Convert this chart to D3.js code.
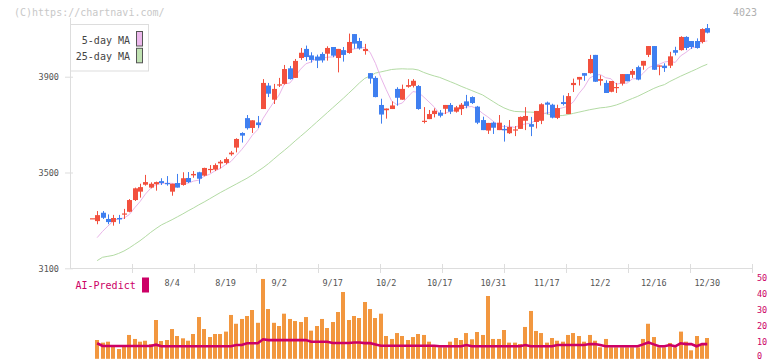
<!DOCTYPE html>
<html><head><meta charset="utf-8">
<script src="https://cdn.jsdelivr.net/npm/d3@7"></script>
<style>
body{margin:0;background:#fff;}
svg{display:block;}
text{font-family:"DejaVu Sans Mono",monospace;}
</style>
</head><body>
<svg id="c" width="772" height="361"></svg>
<script>
const dates = ["7/11","7/14","7/15","7/16","7/17","7/18","7/22","7/23","7/24","7/25","7/28","7/29","7/30","7/31","8/1","8/4","8/5","8/6","8/7","8/8","8/12","8/13","8/14","8/15","8/18","8/19","8/20","8/21","8/22","8/25","8/26","8/27","8/28","8/29","9/1","9/2","9/3","9/4","9/5","9/8","9/9","9/10","9/11","9/12","9/16","9/17","9/18","9/19","9/22","9/24","9/25","9/26","9/29","9/30","10/1","10/2","10/3","10/6","10/7","10/8","10/9","10/10","10/14","10/15","10/16","10/17","10/20","10/21","10/22","10/23","10/24","10/27","10/28","10/29","10/30","10/31","11/4","11/5","11/6","11/7","11/10","11/11","11/12","11/13","11/14","11/17","11/18","11/19","11/20","11/21","11/25","11/26","11/27","11/28","12/1","12/2","12/3","12/4","12/5","12/8","12/9","12/10","12/11","12/12","12/15","12/16","12/17","12/18","12/19","12/22","12/23","12/24","12/25","12/26","12/29","12/30"];

const openP = [3309,3297,3332,3306,3293,3310,3325,3336,3385,3420,
 3449,3437,3451,3464,3456,3420,3456,3448,3477,3488,
 3501,3487,3512,3512,3538,3540,3576,3604,3665,3727,
 3686,3709,3765,3863,3804,3865,3870,3935,3895,3978,
 4016,3989,3984,3995,3996,4024,3978,4011,3999,4078,
 4049,4007,3915,3895,3782,3760,3765,3849,3804,3858,
 3862,3861,3712,3723,3744,3750,3766,3782,3754,3765,
 3797,3815,3775,3719,3675,3708,3677,3682,3664,3676,
 3682,3716,3702,3711,3716,3792,3783,3728,3794,3744,
 3865,3888,3915,3915,3991,3883,3874,3837,3853,3871,
 3911,3908,3940,3946,3991,4028,3943,3946,3946,4011,
 4011,4066,4049,4049,4045,4103];

const highP = [3309,3339,3339,3325,3323,3323,3348,3389,3437,3453,
 3490,3459,3462,3476,3485,3453,3494,3501,3502,3506,
 3503,3520,3531,3538,3552,3563,3590,3643,3668,3740,
 3718,3736,3890,3874,3870,3895,3949,3945,3974,4020,
 4030,4002,3992,4002,4027,4024,4016,4024,4080,4078,
 4062,4037,3915,3902,3808,3767,3797,3856,3867,3890,
 3890,3865,3773,3761,3768,3761,3782,3790,3778,3790,
 3824,3818,3778,3733,3707,3712,3740,3698,3719,3694,
 3734,3773,3732,3757,3789,3796,3787,3783,3822,3832,
 3892,3899,3915,3991,3991,3906,3885,3882,3874,3911,
 3911,3932,3946,3966,4028,4028,3947,3956,4004,4025,
 4069,4069,4049,4060,4102,4120];

const lowP = [3309,3284,3306,3284,3278,3286,3306,3334,3381,3395,
 3445,3434,3424,3448,3445,3403,3437,3445,3456,3478,
 3453,3484,3499,3506,3517,3534,3570,3584,3625,3679,
 3665,3686,3765,3815,3786,3857,3867,3888,3895,3970,
 3966,3959,3936,3959,3967,3981,3918,3963,3996,4017,
 4013,3992,3871,3814,3704,3725,3765,3779,3804,3854,
 3855,3762,3705,3723,3730,3730,3744,3744,3750,3740,
 3768,3786,3702,3677,3661,3661,3677,3629,3661,3652,
 3682,3677,3652,3684,3702,3743,3726,3723,3780,3744,
 3836,3863,3883,3913,3878,3863,3832,3835,3832,3863,
 3881,3895,3885,3929,3982,3928,3906,3920,3936,3989,
 4009,4011,4016,4017,4039,4081];

const closeP = [3309,3322,3311,3293,3310,3304,3329,3385,3434,3439,
 3460,3453,3460,3456,3451,3453,3437,3476,3460,3494,
 3474,3519,3515,3531,3545,3556,3583,3640,3654,3685,
 3718,3698,3874,3829,3849,3868,3932,3890,3966,4000,
 3982,3970,3967,3968,4020,3988,4016,3991,4045,4038,
 4018,4016,3892,3815,3742,3767,3780,3812,3849,3865,
 3883,3765,3716,3744,3758,3737,3782,3754,3772,3783,
 3778,3790,3708,3677,3707,3687,3708,3676,3690,3680,
 3732,3736,3691,3757,3785,3783,3729,3769,3786,3819,
 3874,3899,3904,3974,3879,3890,3832,3882,3857,3911,
 3881,3924,3888,3966,4028,3929,3947,3936,3985,4000,
 4066,4020,4024,4020,4099,4084];

const ma5 = [null,3228,3254,3276,3297,3308.0,3309.4,3324.2,3352.4,3378.2,
 3409.4,3434.2,3449.2,3453.6,3456.0,3454.6,3451.4,3454.6,3455.4,3464.0,
 3468.2,3484.6,3492.4,3506.6,3516.8,3533.2,3546.0,3571.0,3595.6,3623.6,
 3656.0,3679.0,3725.8,3760.8,3793.6,3823.6,3870.4,3873.6,3901.0,3931.2,
 3954.0,3961.6,3977.0,3977.4,3981.4,3982.6,3991.8,3996.6,4012.0,4015.6,
 4021.6,4021.6,4001.8,3955.8,3896.6,3846.4,3799.2,3783.2,3790.0,3814.6,
 3837.8,3834.8,3815.6,3794.6,3773.2,3744.0,3747.4,3755.0,3760.6,3765.6,
 3773.8,3775.4,3766.2,3747.2,3732.0,3713.8,3697.4,3691.0,3693.6,3688.2,
 3697.2,3702.8,3705.8,3719.2,3740.2,3750.4,3749.0,3764.6,3770.4,3777.2,
 3795.4,3829.4,3856.4,3894.0,3906.0,3909.2,3895.8,3891.4,3868.0,3874.4,
 3872.6,3891.0,3892.2,3914.0,3937.4,3947.0,3951.6,3961.2,3965.0,3959.4,
 3986.8,4001.4,4019.0,4026.0,4045.8,4049.4];

const ma25 = [null,3132,3146,3150,3154,3162,3172,3185,3200,3215,
 3232,3250,3266,3281,3292,3303,3315,3327,3340,3352,
 3365,3377,3390,3403,3416,3428,3440,3452,3464,3476,
 3490,3505,3520,3537,3556,3575,3593,3612,3632,3651,
 3670,3690,3710,3730,3750,3770,3790,3810,3831,3852,
 3874,3893,3903,3915,3920,3925,3930,3932,3933,3932,
 3932,3928,3918,3910,3903,3897,3888,3879,3870,3860,
 3851,3842,3833,3824,3810,3796,3782,3770,3761,3755,
 3754,3753,3752,3751,3750,3745,3740,3737,3738,3742,
 3747,3752,3757,3762,3766,3770,3772,3776,3782,3790,
 3800,3809,3818,3829,3840,3851,3860,3867,3880,3891,
 3902,3912,3922,3932,3943,3952];

const volume = [null,11.75,10.1,10.7,8.2,6.1,8.0,14.9,12.4,10.7,
 11.3,9.2,24.25,11.1,11.75,18.6,14.25,12.8,11.3,15.5,
 26.1,18.6,13.6,15.5,15.5,17.0,27.4,21.9,24.9,26.75,
 30.5,22.5,49.9,31.1,22.5,20.5,28.2,24.9,23.6,23.0,
 26.1,17.6,20.5,24.9,19.25,23.0,29.25,41.75,24.25,26.75,
 25.5,35.5,31.1,25.5,28.2,14.25,12.4,16.1,14.25,11.75,
 13.6,15.5,14.9,10.7,8.0,7.2,7.2,10.7,13.0,11.75,
 16.1,12.2,16.75,14.9,39.25,12.4,12.4,18.0,10.1,10.1,
 9.25,19.9,29.9,17.4,16.1,10.1,13.0,11.3,10.7,14.9,
 16.1,14.25,10.7,14.9,11.3,7.2,12.4,7.2,7.2,7.2,
 7.2,7.2,7.2,12.4,21.9,13.6,7.2,7.2,9.9,7.2,
 17.0,10.7,5.3,14.25,9.0,13.0];

const aiPredict = [null,9.7,8.0,8.0,8.0,8.0,8.0,8.0,8.0,8.0,
 8.0,8.0,8.8,7.8,7.8,7.8,7.8,7.8,7.8,7.8,
 7.8,7.8,7.8,7.8,7.8,7.8,7.8,8.6,8.6,9.7,
 9.7,9.7,12.2,11.7,11.7,11.7,11.7,11.7,11.7,11.7,
 11.7,10.7,10.7,10.7,10.7,9.9,9.9,9.9,9.9,10.2,
 10.2,9.8,9.8,9.0,8.2,8.2,8.2,8.2,8.2,8.2,
 8.2,8.2,8.2,8.2,8.2,7.8,7.8,7.8,7.8,7.8,
 8.6,7.8,7.8,7.8,7.8,7.8,7.8,7.8,7.8,7.8,
 7.8,8.6,7.8,7.8,7.8,7.8,7.8,8.6,8.6,8.6,
 8.6,8.6,8.6,9.2,9.2,8.6,7.8,7.8,7.8,7.8,
 7.8,7.8,7.8,9.0,10.2,9.0,7.8,7.8,8.6,7.8,
 9.7,9.2,9.2,7.8,9.2,9.2];

const xTickLabels = ["8/4","8/19","9/2","9/17","10/2","10/17","10/31","11/17","12/2","12/16","12/30"];
const yTicks = [3100, 3500, 3900];
const volTicks = [0, 10, 20, 30, 40, 50];
const legendItems = ["5-day MA", "25-day MA"];

const plotL = 70, plotR = 752, axisY = 268.3;
const svg = d3.select("#c");

const x = d3.scalePoint().domain(dates).range([91.8, 707.3]);
const y = d3.scaleLinear().domain([3100, 3900]).range([axisY, 76.7]);
const yv = d3.scaleLinear().domain([0, 50]).range([358.8, 278.8]);
const xGrid = d3.scaleLinear().domain([0, 11]).range([plotL, plotR]);
const idx = d3.range(dates.length);
const X = i => x(dates[i]);

const RED = "#f2503e", BLUE = "#3f7ff0", AI = "#cc0066";

// header texts
svg.append("text").attr("x", 14).attr("y", 12.5).attr("dominant-baseline", "central")
  .attr("font-size", 10).attr("fill", "#c8c8c8").text("(C)https://chartnavi.com/");
svg.append("text").attr("x", 757).attr("y", 12.5).attr("dominant-baseline", "central")
  .attr("text-anchor", "end").attr("font-size", 10).attr("fill", "#b0b0b0").text("4023");

// y axis
svg.append("line").attr("x1", plotL + 0.5).attr("x2", plotL + 0.5).attr("y1", 18).attr("y2", axisY)
  .attr("stroke", "#dddddd");
const gy = svg.append("g").attr("transform", `translate(${plotL},0)`)
  .call(d3.axisLeft(y).tickValues(yTicks).tickSize(5).tickPadding(6).tickFormat(d3.format("d")));
gy.select(".domain").remove();
gy.selectAll(".tick line").attr("x1", 3).attr("stroke", "#dddddd");
gy.selectAll(".tick text").attr("font-family", "DejaVu Sans Mono").attr("font-size", 8.5).attr("fill", "#555");

// x axis
svg.append("line").attr("x1", plotL).attr("x2", plotR).attr("y1", Math.round(axisY) + 0.5).attr("y2", Math.round(axisY) + 0.5)
  .attr("stroke", "#dddddd");
svg.append("g").selectAll("line").data(d3.range(1, 12)).join("line")
  .attr("x1", d => Math.round(xGrid(d)) + 0.5).attr("x2", d => Math.round(xGrid(d)) + 0.5)
  .attr("y1", 264).attr("y2", 273).attr("stroke", "#dddddd");
svg.append("g").selectAll("text").data(xTickLabels).join("text")
  .attr("x", d => x(d)).attr("y", 282.5).attr("text-anchor", "middle").attr("dominant-baseline", "central")
  .attr("font-size", 8.5).attr("fill", "#555").text(d => d);

// MA lines
const lineGen = acc => d3.line().defined(i => acc[i] != null).x(i => X(i)).y(i => y(acc[i]));
svg.append("path").attr("d", lineGen(ma25)(idx)).attr("fill", "none").attr("stroke", "#b3dba4").attr("stroke-width", 1);
svg.append("path").attr("d", lineGen(ma5)(idx)).attr("fill", "none").attr("stroke", "#e9b5e9").attr("stroke-width", 1);

// candles
const cg = svg.append("g");
cg.selectAll("line").data(idx).join("line")
  .attr("x1", i => Math.round(X(i)) + 0.5).attr("x2", i => Math.round(X(i)) + 0.5)
  .attr("y1", i => y(highP[i])).attr("y2", i => y(lowP[i]))
  .attr("stroke", i => closeP[i] >= openP[i] ? RED : BLUE).attr("stroke-width", 1);
cg.selectAll("rect").data(idx).join("rect")
  .attr("x", i => Math.round(X(i)) - 2).attr("width", 5)
  .attr("y", i => y(Math.max(openP[i], closeP[i])))
  .attr("height", i => Math.max(1.2, Math.abs(y(openP[i]) - y(closeP[i]))))
  .attr("fill", i => closeP[i] >= openP[i] ? RED : BLUE);

// volume bars
svg.append("g").selectAll("rect").data(idx.filter(i => volume[i] != null)).join("rect")
  .attr("x", i => Math.round(X(i)) - 2).attr("width", 4)
  .attr("y", i => yv(volume[i])).attr("height", i => yv(0) - yv(volume[i]))
  .attr("fill", "#f2973f");

// AI predict line
svg.append("path").attr("d", d3.line().defined(i => aiPredict[i] != null).x(i => X(i)).y(i => yv(aiPredict[i]))(idx))
  .attr("fill", "none").attr("stroke", AI).attr("stroke-width", 2.6);

// volume axis labels (right)
svg.append("g").selectAll("text").data(volTicks).join("text")
  .attr("x", 757).attr("y", d => Math.min(yv(d) - 1, 355.5)).attr("dominant-baseline", "central")
  .attr("font-size", 8.5).attr("fill", AI).text(d => d);

// AI-Predict label
svg.append("text").attr("x", 75.5).attr("y", 285.5).attr("dominant-baseline", "central")
  .attr("font-size", 10).attr("fill", AI).text("AI-Predict");
svg.append("rect").attr("x", 142).attr("y", 277.5).attr("width", 7).attr("height", 15).attr("fill", AI);

// legend
const lg = svg.append("g");
lg.append("rect").attr("x", 70.5).attr("y", 24.5).attr("width", 78).attr("height", 46.5)
  .attr("fill", "#fff").attr("stroke", "#dddddd");
const swFill = ["#ecb8ec", "#c0e2b2"];
legendItems.forEach((t, k) => {
  lg.append("text").attr("x", 130).attr("y", 40 + k * 16.3).attr("dominant-baseline", "central")
    .attr("text-anchor", "end").attr("font-size", 10).attr("fill", "#444").text(t);
  lg.append("rect").attr("x", 136.5).attr("y", 31.5 + k * 16.8).attr("width", 6).attr("height", 14.5)
    .attr("fill", swFill[k]).attr("stroke", "#555");
});
</script>
</body></html>
